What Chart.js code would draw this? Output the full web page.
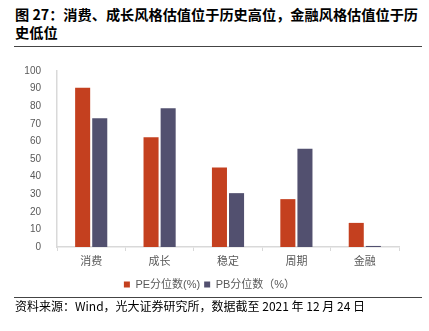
<!DOCTYPE html>
<html>
<head>
<meta charset="utf-8">
<script src="https://cdn.jsdelivr.net/npm/chart.js@4.4.1/dist/chart.umd.min.js"></script>
<style>
  html, body { margin: 0; padding: 0; background: #fff; }
  body { width: 429px; height: 331px; position: relative; overflow: hidden;
         font-family: "Liberation Sans", "Noto Sans CJK SC", sans-serif; }
  #title { position: absolute; left: 15px; top: 5px; width: 412px; font-size: 14.2px; font-weight: bold;
           line-height: 18px; color: #000; font-family: "Noto Sans CJK SC", sans-serif; }
  .rule { position: absolute; left: 14px; width: 408px; height: 0; border-top: 1.5px solid #444; }
  #wrap { position: absolute; left: 0; top: 55px; width: 429px; height: 245px; }
  #source { position: absolute; left: 15px; top: 298px; font-size: 12px; color: #000; line-height: 16px;
            font-family: "Noto Sans CJK SC", sans-serif; }
</style>
</head>
<body>
<div id="title">图 27：消费、成长风格估值位于历史高位，金融风格估值位于历史低位</div>
<div class="rule" style="top:46px"></div>
<div id="wrap"><canvas id="c"></canvas></div>
<div class="rule" style="top:297px"></div>
<div id="source">资料来源：Wind，光大证券研究所，数据截至 2021 年 12 月 24 日</div>
<script>
const categories = ['消费', '成长', '稳定', '周期', '金融'];
const peValues = [90.5, 62.3, 45.1, 27.2, 13.7];
const pbValues = [73.2, 78.8, 30.6, 55.8, 0.6];
const yTicks = [0, 10, 20, 30, 40, 50, 60, 70, 80, 90, 100];

const textColor = '#595959';
const axisColor = '#d9d9d9';
const fontFamily = '"Liberation Sans", "Noto Sans CJK SC", sans-serif';

new Chart(document.getElementById('c'), {
    type: 'bar',
    data: {
        labels: categories,
        datasets: [
            {
                label: 'PE分位数(%)',
                data: peValues,
                backgroundColor: '#c4401f',
                categoryPercentage: 0.5,
                barPercentage: 0.88
            },
            {
                label: 'PB分位数（%）',
                data: pbValues,
                backgroundColor: '#52506f',
                categoryPercentage: 0.5,
                barPercentage: 0.88
            }
        ]
    },
    options: {
        responsive: true,
        maintainAspectRatio: false,
        animation: false,
        layout: { padding: { left: 20, right: 30, top: 16, bottom: 0 } },
        plugins: {
            legend: {
                position: 'bottom',
                labels: {
                    color: textColor,
                    boxWidth: 6,
                    boxHeight: 6,
                    padding: 4,
                    font: { family: fontFamily, size: 11 }
                }
            },
            tooltip: { enabled: false }
        },
        scales: {
            y: {
                min: 0,
                max: 100,
                afterFit: (scale) => { scale.width = 37; },
                afterBuildTicks: (scale) => { scale.ticks = yTicks.map(v => ({ value: v })); },
                ticks: {
                    color: textColor,
                    padding: 8,
                    font: { family: fontFamily, size: 10 }
                },
                grid: { display: false },
                border: { color: axisColor, width: 1.5 }
            },
            x: {
                afterFit: (scale) => { scale.height = 28; },
                ticks: {
                    color: textColor,
                    padding: 4,
                    font: { family: fontFamily, size: 11 }
                },
                grid: {
                    offset: true,
                    drawOnChartArea: false,
                    drawTicks: true,
                    tickLength: 4,
                    color: axisColor
                },
                border: { color: axisColor, width: 1.5 }
            }
        }
    }
});
</script>
</body>
</html>
